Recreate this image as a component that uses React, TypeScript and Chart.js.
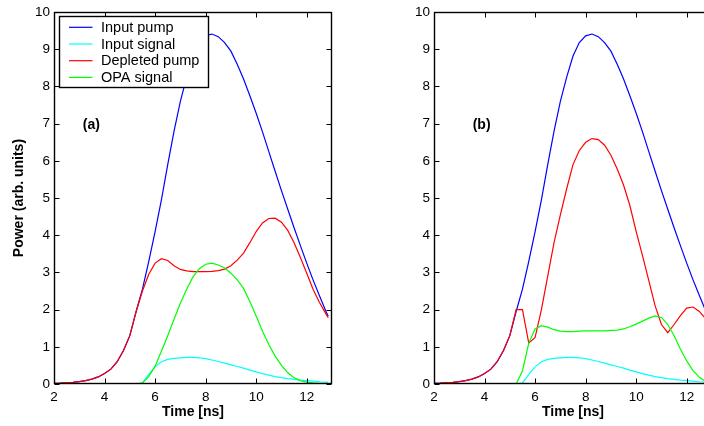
import React, { useEffect, useRef } from 'react';
import { Chart, registerables } from 'chart.js';

Chart.register(...registerables);

// Sample times (ns)
const timeNs = [
  2, 2.25, 2.5, 2.75, 3, 3.25, 3.5, 3.75, 4, 4.25, 4.5, 4.75, 5, 5.25, 5.5, 5.75,
  6, 6.25, 6.5, 6.75, 7, 7.25, 7.5, 7.75, 8, 8.25, 8.5, 8.75, 9, 9.25, 9.5, 9.75,
  10, 10.25, 10.5, 10.75, 11, 11.25, 11.5, 11.75, 12, 12.25, 12.5, 12.75, 12.85,
];

// Input pump (same in both panels)
const inputPump = [
  0.02, 0.025, 0.035, 0.045, 0.065, 0.09, 0.13, 0.19, 0.28, 0.4, 0.6, 0.9, 1.3, 1.95, 2.55, 3.3,
  4.1, 4.95, 5.9, 6.8, 7.6, 8.25, 8.82, 9.18, 9.36, 9.41, 9.34, 9.18, 8.95, 8.6, 8.2, 7.75,
  7.28, 6.78, 6.25, 5.72, 5.2, 4.7, 4.2, 3.72, 3.25, 2.8, 2.38, 1.97, 1.82,
];

// Input signal (same in both panels)
const inputSignal = [
  0, 0, 0, 0, 0, 0, 0, 0, 0, 0, 0, 0, 0, 0, 0.03, 0.26,
  0.46, 0.6, 0.66, 0.69, 0.705, 0.715, 0.715, 0.705, 0.68, 0.645, 0.605, 0.56, 0.515, 0.47, 0.425, 0.375,
  0.325, 0.28, 0.24, 0.2, 0.17, 0.145, 0.125, 0.105, 0.09, 0.075, 0.06, 0.05, 0.045,
];

// Panel (a)
const depletedPumpA = [
  0.02, 0.025, 0.035, 0.045, 0.065, 0.09, 0.13, 0.19, 0.28, 0.4, 0.6, 0.9, 1.3, 1.95, 2.5, 2.95,
  3.25, 3.37, 3.32, 3.18, 3.08, 3.04, 3.02, 3.02, 3.02, 3.03, 3.05, 3.09, 3.18, 3.33, 3.52, 3.8,
  4.1, 4.33, 4.45, 4.46, 4.35, 4.13, 3.8, 3.4, 2.98, 2.55, 2.2, 1.9, 1.78,
];
const opaSignalA = [
  0, 0, 0, 0, 0, 0, 0, 0, 0, 0, 0, 0, 0, 0, 0.03, 0.2,
  0.48, 0.88, 1.3, 1.74, 2.17, 2.55, 2.88, 3.1, 3.22, 3.25, 3.2, 3.12, 2.98, 2.8, 2.57, 2.22,
  1.83, 1.42, 1.06, 0.75, 0.5, 0.3, 0.17, 0.09, 0.05, 0.03, 0.02, 0.01, 0.01,
];

// Panel (b)
const depletedPumpB = [
  0.02, 0.025, 0.035, 0.045, 0.065, 0.09, 0.13, 0.19, 0.28, 0.4, 0.6, 0.9, 1.3, 2.0, 2.0, 1.1,
  1.25, 2.0, 2.9, 3.8, 4.55, 5.25, 5.9, 6.28, 6.5, 6.6, 6.57, 6.42, 6.15, 5.78, 5.35, 4.8,
  4.1, 3.45, 2.78, 2.1, 1.6, 1.38, 1.6, 1.84, 2.04, 2.07, 1.95, 1.75, 1.68,
];
const opaSignalB = [
  0, 0, 0, 0, 0, 0, 0, 0, 0, 0, 0, 0, 0, 0, 0.35, 1.1,
  1.48, 1.57, 1.53, 1.46, 1.42, 1.41, 1.41, 1.42, 1.43, 1.43, 1.43, 1.43, 1.44, 1.45, 1.48, 1.54,
  1.61, 1.69, 1.77, 1.83, 1.79, 1.6, 1.3, 0.94, 0.62, 0.36, 0.18, 0.07, 0.05,
];

const xTickValues = [2, 4, 6, 8, 10, 12];
const yTickValues = [0, 1, 2, 3, 4, 5, 6, 7, 8, 9, 10];

const seriesLabels = ['Input pump', 'Input signal', 'Depleted pump', 'OPA signal'];
const seriesColors = ['#0000ff', '#00ffff', '#ff0000', '#00ff00'];

const FONT = '"Liberation Sans", Arial, Helvetica, sans-serif';

// Box, inward ticks on all sides, panel tag and optional legend
const framePlugin = {
  id: 'matlabFrame',
  afterDraw(chart: any, _args: any, opts: any) {
    const { ctx, chartArea, scales } = chart;
    const { left, right, top, bottom } = chartArea;
    const xs = scales.x;
    const ys = scales.y;
    ctx.save();
    ctx.strokeStyle = '#000';
    ctx.lineWidth = 1;
    const l = Math.round(left) + 0.5;
    const r = Math.round(right) - 0.5;
    const t = Math.round(top) + 0.5;
    const b = Math.round(bottom) - 0.5;
    const len = 5;
    ctx.beginPath();
    for (const v of xTickValues) {
      const px = Math.round(xs.getPixelForValue(v)) + 0.5;
      ctx.moveTo(px, b);
      ctx.lineTo(px, b - len);
      ctx.moveTo(px, t);
      ctx.lineTo(px, t + len);
    }
    for (const v of yTickValues) {
      const py = Math.round(ys.getPixelForValue(v)) + 0.5;
      ctx.moveTo(l, py);
      ctx.lineTo(l + len, py);
      ctx.moveTo(r, py);
      ctx.lineTo(r - len, py);
    }
    ctx.stroke();
    ctx.lineWidth = 1.4;
    ctx.strokeRect(l, t, r - l, b - t);

    if (opts.tag) {
      ctx.fillStyle = '#000';
      ctx.font = `bold 14px ${FONT}`;
      ctx.textAlign = 'left';
      ctx.textBaseline = 'middle';
      ctx.fillText(opts.tag.text, xs.getPixelForValue(opts.tag.x), ys.getPixelForValue(opts.tag.y));
    }

    if (opts.legend) {
      const bx = Math.round(left) + 5.5;
      const by = Math.round(top) + 4.5;
      const bw = 149;
      const bh = 71;
      ctx.fillStyle = '#fff';
      ctx.fillRect(bx, by, bw, bh);
      ctx.strokeStyle = '#000';
      ctx.lineWidth = 1.4;
      ctx.strokeRect(bx, by, bw, bh);
      ctx.font = `14.5px ${FONT}`;
      ctx.textAlign = 'left';
      ctx.textBaseline = 'middle';
      ctx.lineWidth = 1.2;
      chart.data.datasets.forEach((ds: any, i: number) => {
        const rowY = by + 10.8 + i * 16.7;
        ctx.strokeStyle = ds.borderColor;
        ctx.beginPath();
        ctx.moveTo(bx + 9.5, rowY);
        ctx.lineTo(bx + 33, rowY);
        ctx.stroke();
        ctx.fillStyle = '#000';
        ctx.fillText(ds.label, bx + 41.5, rowY + 0.5);
      });
    }
    ctx.restore();
  },
};

function makeDataset(label: string, color: string, values: number[], order: number) {
  return {
    label,
    data: timeNs.map((t, i) => ({ x: t, y: values[i] })),
    borderColor: color,
    backgroundColor: color,
    borderWidth: 1.2,
    pointRadius: 0,
    tension: 0,
    fill: false,
    order,
  };
}

type PanelProps = {
  left: number;
  pumpOut: number[];
  signalOut: number[];
  tag: { text: string; x: number; y: number };
  showLegend: boolean;
  showYTitle: boolean;
};

function Panel({ left, pumpOut, signalOut, tag, showLegend, showYTitle }: PanelProps) {
  const ref = useRef<HTMLCanvasElement>(null);
  useEffect(() => {
    const canvas = ref.current;
    if (!canvas) return;
    const chart = new Chart(canvas, {
      type: 'line',
      data: {
        datasets: [
          makeDataset(seriesLabels[0], seriesColors[0], inputPump, 4),
          makeDataset(seriesLabels[1], seriesColors[1], inputSignal, 3),
          makeDataset(seriesLabels[2], seriesColors[2], pumpOut, 2),
          makeDataset(seriesLabels[3], seriesColors[3], signalOut, 1),
        ],
      },
      options: {
        responsive: false,
        animation: false,
        devicePixelRatio: 1,
        layout: { padding: { left: 0, top: 12, right: 13, bottom: 0 } },
        plugins: {
          legend: { display: false },
          tooltip: { enabled: false },
          matlabFrame: { legend: showLegend, tag },
        } as any,
        scales: {
          x: {
            type: 'linear',
            min: 2,
            max: 13,
            grid: { display: false, drawTicks: false },
            border: { display: false },
            afterBuildTicks: (s: any) => {
              s.ticks = xTickValues.map((value) => ({ value }));
            },
            afterFit: (s: any) => {
              s.height = 42;
            },
            ticks: {
              padding: 5,
              color: '#000',
              font: { family: FONT, size: 13.5 },
              maxRotation: 0,
            },
            title: {
              display: true,
              text: 'Time [ns]',
              color: '#000',
              font: { family: FONT, size: 14, weight: 'bold' },
              padding: { top: 0, bottom: 5 },
            },
          },
          y: {
            type: 'linear',
            min: 0,
            max: 10,
            grid: { display: false, drawTicks: false },
            border: { display: false },
            afterBuildTicks: (s: any) => {
              s.ticks = yTickValues.map((value) => ({ value }));
            },
            afterFit: (s: any) => {
              s.width = 54;
            },
            ticks: {
              padding: 4,
              color: '#000',
              font: { family: FONT, size: 13.5 },
            },
            title: {
              display: showYTitle,
              text: 'Power (arb. units)',
              color: '#000',
              font: { family: FONT, size: 14, weight: 'bold' },
              padding: { top: 11, bottom: 0 },
            },
          },
        },
      } as any,
      plugins: [framePlugin],
    });
    return () => chart.destroy();
  }, []);
  return (
    <canvas
      ref={ref}
      width={345}
      height={426}
      style={{ position: 'absolute', left, top: 0, width: 345, height: 426 }}
    />
  );
}

export default function App() {
  return (
    <div
      style={{
        position: 'fixed',
        left: 0,
        top: 0,
        width: 704,
        height: 426,
        overflow: 'hidden',
        background: '#fff',
      }}
    >
      <Panel
        left={0}
        pumpOut={depletedPumpA}
        signalOut={opaSignalA}
        tag={{ text: '(a)', x: 3.14, y: 6.96 }}
        showLegend={true}
        showYTitle={true}
      />
      <Panel
        left={380}
        pumpOut={depletedPumpB}
        signalOut={opaSignalB}
        tag={{ text: '(b)', x: 3.53, y: 6.96 }}
        showLegend={false}
        showYTitle={false}
      />
    </div>
  );
}
